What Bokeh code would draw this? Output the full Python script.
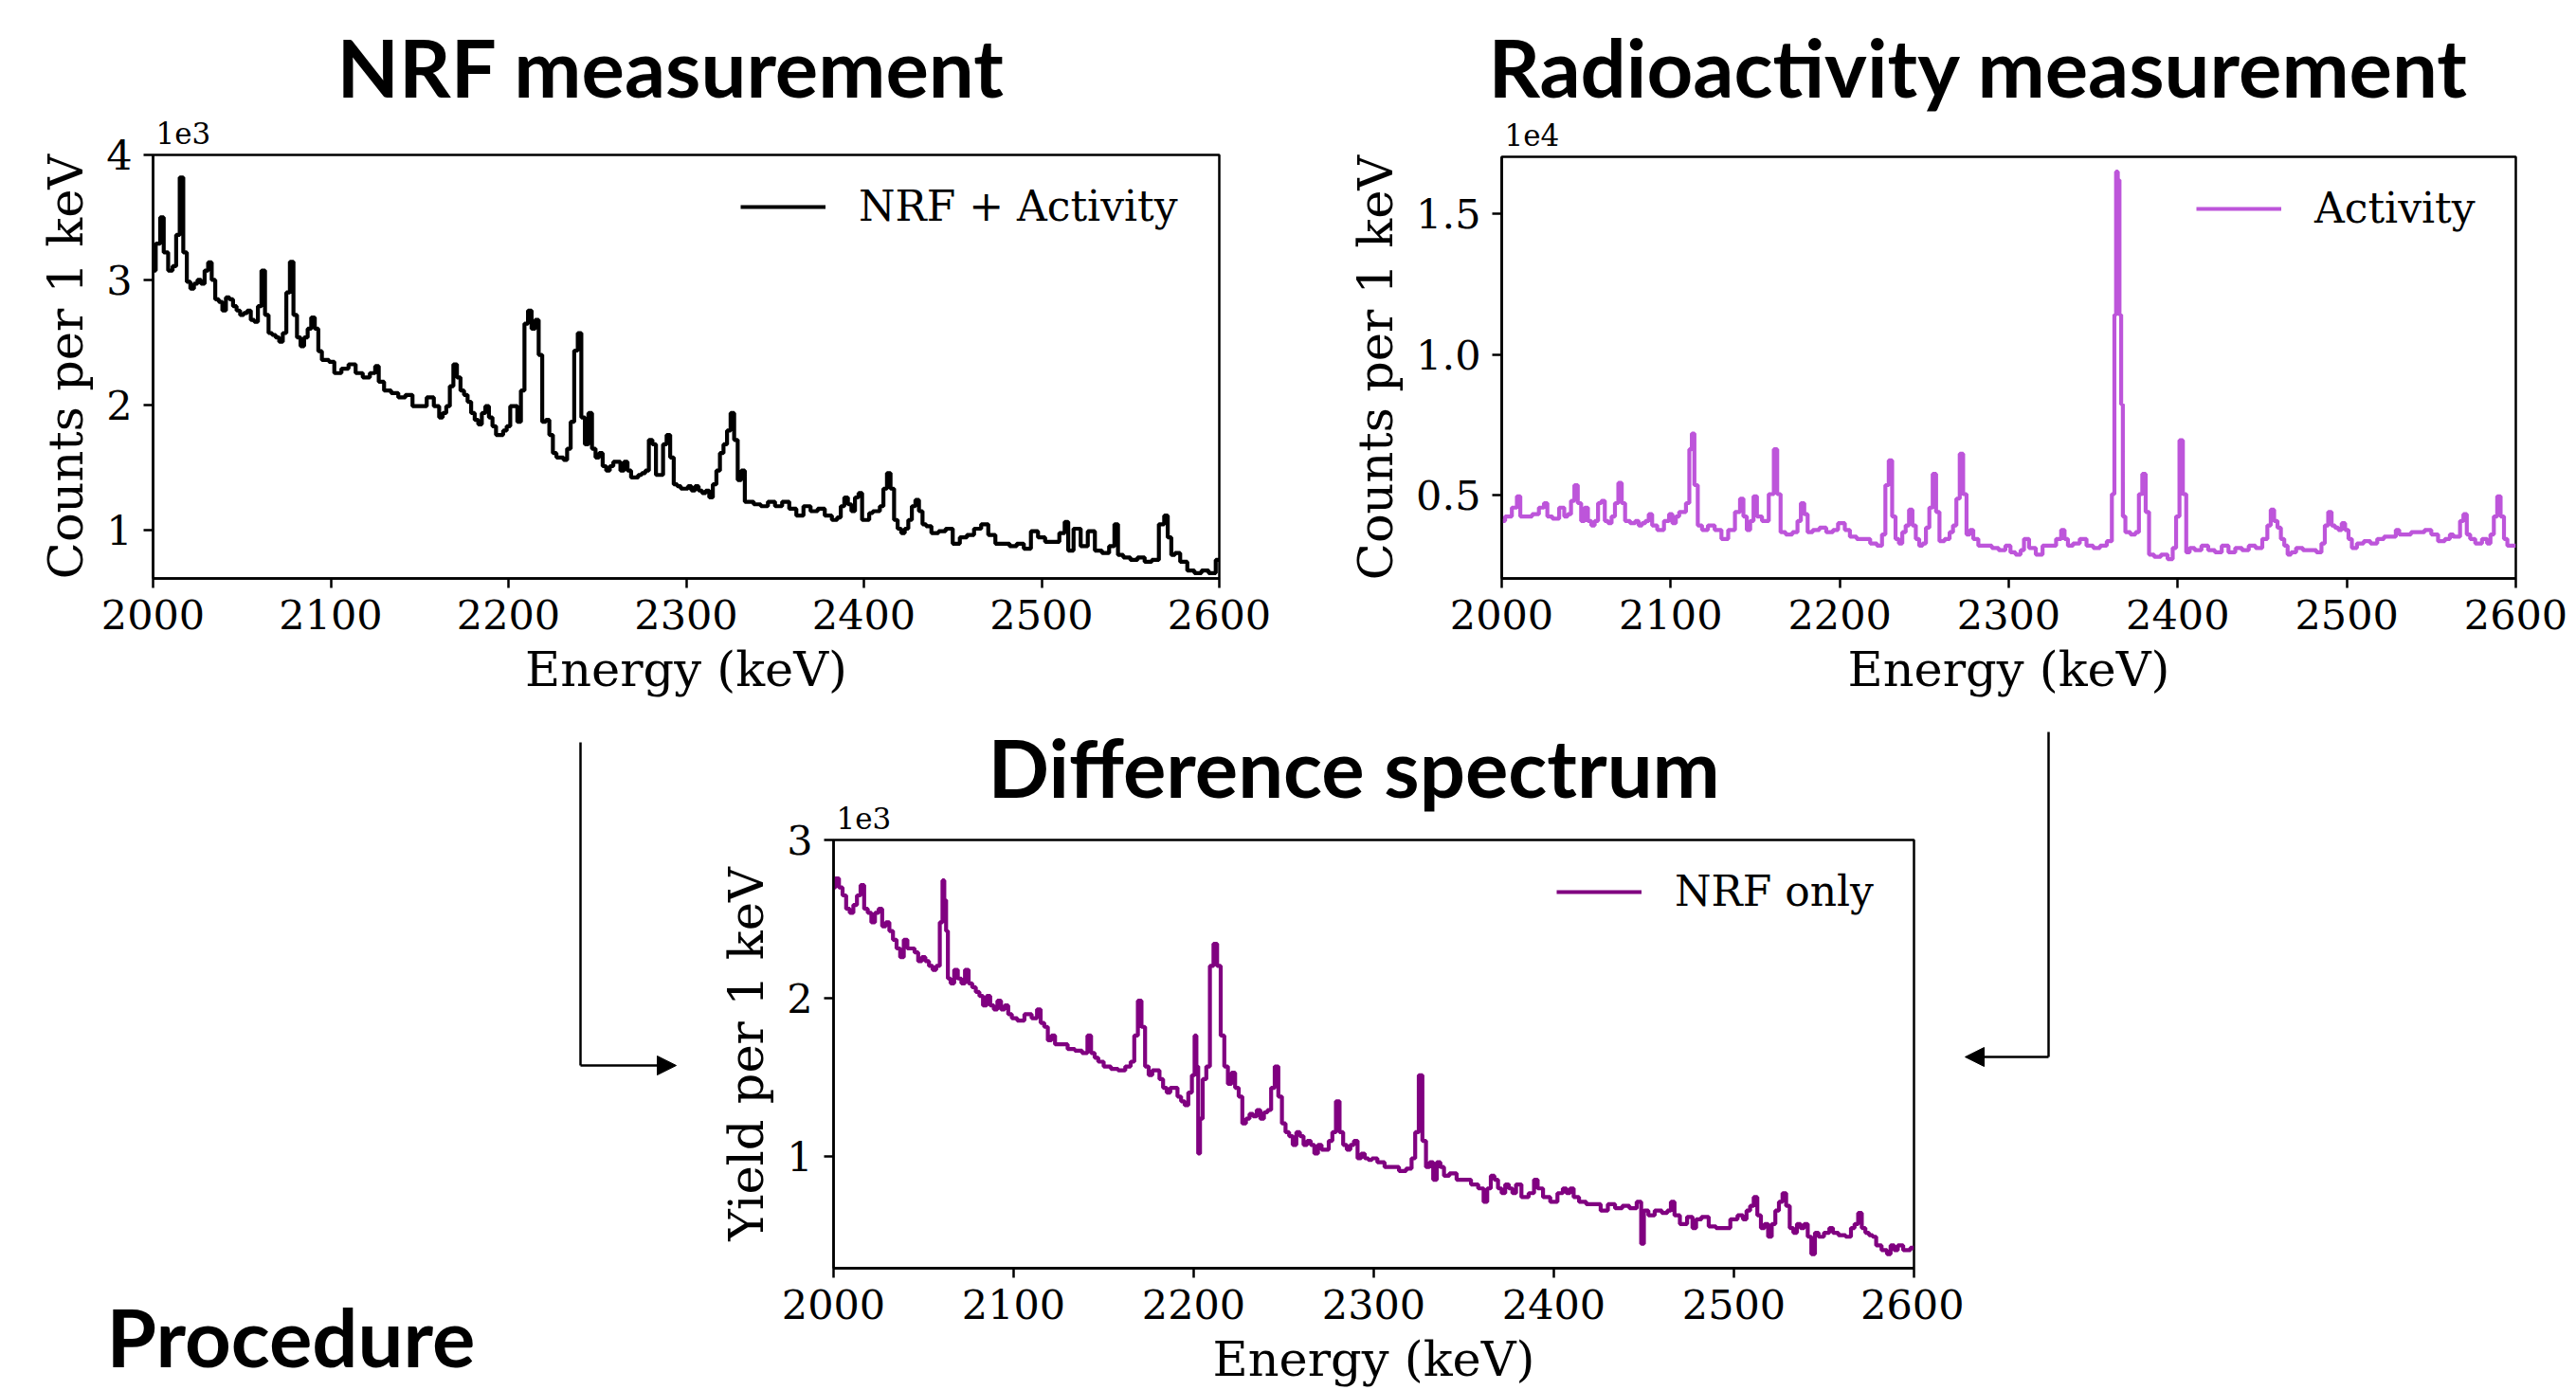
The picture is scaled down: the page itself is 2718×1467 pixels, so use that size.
from bokeh.plotting import figure
from bokeh.layouts import column, row
from bokeh.models import (Range1d, FixedTicker, CustomJSTickFormatter, Label, Arrow,
                          NormalHead, Legend, LegendItem, Title)
from bokeh.embed import file_html
from bokeh.resources import INLINE

# ---------------- data ----------------
energy_ticks = [2000, 2100, 2200, 2300, 2400, 2500, 2600]

nrf_energy = [2000, 2003, 2005, 2007, 2010, 2012, 2014, 2016, 2018, 2020, 2022, 2024, 2026, 2028, 2030,
              2032, 2034, 2036, 2038, 2040, 2042, 2044, 2046, 2048, 2050, 2052, 2054, 2056, 2058, 2060,
              2062, 2064, 2066, 2068, 2070, 2072, 2074, 2076, 2078, 2080, 2082, 2084, 2086, 2088, 2090,
              2092, 2094, 2096, 2098, 2100, 2104, 2108, 2112, 2116, 2120, 2124, 2126, 2128, 2132, 2136,
              2140, 2144, 2148, 2152, 2156, 2160, 2162, 2164, 2166, 2168, 2170, 2172, 2174, 2176, 2178,
              2180, 2182, 2184, 2186, 2188, 2190, 2192, 2194, 2196, 2198, 2200, 2202, 2204, 2206, 2208,
              2210, 2212, 2214, 2216, 2218, 2220, 2222, 2224, 2226, 2228, 2230, 2232, 2234, 2236, 2238,
              2240, 2242, 2244, 2246, 2248, 2250, 2252, 2254, 2256, 2258, 2260, 2262, 2264, 2266, 2268,
              2270, 2272, 2274, 2276, 2278, 2280, 2282, 2284, 2286, 2288, 2290, 2292, 2294, 2296, 2298,
              2300, 2302, 2304, 2306, 2308, 2310, 2312, 2314, 2316, 2318, 2320, 2322, 2324, 2326, 2328,
              2330, 2332, 2334, 2336, 2340, 2344, 2348, 2352, 2356, 2360, 2364, 2368, 2372, 2376, 2380,
              2384, 2386, 2388, 2390, 2392, 2394, 2396, 2398, 2400, 2402, 2404, 2406, 2408, 2410, 2412,
              2414, 2416, 2418, 2420, 2422, 2424, 2426, 2428, 2430, 2432, 2434, 2436, 2440, 2444, 2448,
              2452, 2456, 2460, 2464, 2468, 2472, 2476, 2480, 2484, 2488, 2492, 2496, 2500, 2504, 2508,
              2512, 2514, 2516, 2520, 2524, 2528, 2532, 2536, 2540, 2542, 2544, 2548, 2552, 2556, 2560,
              2564, 2568, 2570, 2572, 2574, 2576, 2580, 2584, 2588, 2592, 2596, 2600]
nrf_counts = [3075, 3290, 3500, 3220, 3075, 3110, 3360, 3820, 3220, 2985, 2930, 2970, 3000, 2970, 3075,
              3140, 3000, 2845, 2825, 2755, 2860, 2845, 2790, 2755, 2720, 2735, 2755, 2680, 2665, 2790,
              3075, 2720, 2575, 2560, 2540, 2505, 2575, 2900, 3145, 2720, 2540, 2470, 2540, 2610, 2700,
              2610, 2430, 2360, 2360, 2345, 2255, 2290, 2325, 2255, 2220, 2255, 2310, 2185, 2115, 2095,
              2060, 2080, 1990, 1990, 2060, 1990, 1900, 1935, 1990, 2150, 2325, 2220, 2115, 2080, 2025,
              1935, 1880, 1845, 1935, 1990, 1900, 1830, 1760, 1760, 1795, 1830, 1990, 1990, 1865, 2115,
              2650, 2755, 2610, 2680, 2400, 1865, 1880, 1760, 1615, 1580, 1580, 1560, 1650, 1865, 2435,
              2575, 1900, 1685, 1935, 1650, 1580, 1615, 1510, 1475, 1510, 1545, 1545, 1475, 1545, 1475,
              1420, 1420, 1440, 1455, 1475, 1720, 1685, 1440, 1440, 1685, 1760, 1580, 1365, 1350, 1330,
              1330, 1350, 1315, 1350, 1315, 1295, 1315, 1260, 1365, 1475, 1615, 1685, 1795, 1935, 1720,
              1400, 1475, 1225, 1225, 1205, 1190, 1225, 1190, 1225, 1170, 1115, 1190, 1150, 1170, 1115,
              1080, 1100, 1190, 1260, 1205, 1150, 1260, 1295, 1080, 1080, 1135, 1150, 1150, 1190, 1330,
              1455, 1330, 1080, 1010, 975, 1010, 1080, 1190, 1240, 1150, 1045, 1030, 975, 990, 1010,
              890, 940, 960, 1010, 1045, 960, 890, 890, 870, 890, 850, 990, 940, 905, 905,
              975, 1065, 835, 1010, 870, 990, 835, 815, 870, 1045, 800, 780, 760, 780, 745,
              760, 1045, 1115, 940, 800, 815, 745, 675, 655, 675, 655, 760]

act_energy = [2000, 2004, 2008, 2010, 2012, 2016, 2020, 2024, 2026, 2028, 2032, 2036, 2038, 2040, 2042,
              2044, 2046, 2048, 2050, 2052, 2054, 2056, 2058, 2060, 2062, 2064, 2066, 2068, 2070, 2072,
              2074, 2078, 2080, 2082, 2084, 2086, 2088, 2090, 2094, 2098, 2100, 2102, 2104, 2106, 2108,
              2110, 2112, 2113, 2115, 2117, 2120, 2124, 2128, 2132, 2136, 2140, 2142, 2144, 2146, 2148,
              2150, 2152, 2156, 2160, 2162, 2164, 2166, 2170, 2174, 2176, 2178, 2180, 2182, 2186, 2190,
              2194, 2198, 2200, 2202, 2204, 2208, 2212, 2216, 2220, 2224, 2226, 2228, 2230, 2232, 2234,
              2236, 2238, 2240, 2242, 2244, 2246, 2248, 2250, 2252, 2254, 2256, 2258, 2260, 2264, 2266,
              2268, 2270, 2272, 2274, 2276, 2278, 2280, 2284, 2288, 2292, 2296, 2300, 2302, 2306, 2308,
              2310, 2314, 2318, 2322, 2326, 2330, 2332, 2334, 2336, 2340, 2344, 2348, 2352, 2356, 2360,
              2362, 2363, 2364, 2365, 2366, 2367, 2368, 2370, 2374, 2376, 2378, 2380, 2382, 2384, 2388,
              2392, 2396, 2398, 2400, 2402, 2404, 2406, 2408, 2412, 2416, 2420, 2424, 2428, 2432, 2436,
              2440, 2444, 2448, 2452, 2454, 2456, 2458, 2460, 2462, 2464, 2466, 2468, 2472, 2476, 2480,
              2484, 2486, 2488, 2490, 2492, 2494, 2496, 2498, 2500, 2502, 2504, 2508, 2512, 2516, 2520,
              2524, 2528, 2530, 2532, 2536, 2540, 2544, 2548, 2552, 2556, 2560, 2562, 2564, 2566, 2568,
              2570, 2572, 2574, 2578, 2582, 2584, 2586, 2588, 2590, 2592, 2594, 2596, 2600]
act_counts = [4075, 4235, 4550, 4950, 4235, 4235, 4315, 4550, 4710, 4235, 4155, 4550, 4235, 4315, 4790,
              5350, 4710, 4075, 4550, 4075, 3915, 4075, 4710, 4790, 4075, 3995, 4235, 4710, 5430, 4710,
              4075, 3995, 4075, 3915, 3995, 4075, 4315, 3915, 3755, 4075, 4315, 3995, 4235, 4395, 4395,
              4710, 6625, 7185, 5350, 3915, 3755, 3915, 3755, 3435, 3755, 4395, 4870, 4235, 3755, 4075,
              4950, 4235, 4075, 5030, 6625, 5030, 3675, 3595, 3675, 4075, 4710, 4315, 3675, 3755, 3835,
              3675, 3755, 3995, 3995, 3755, 3515, 3435, 3435, 3275, 3195, 3595, 5350, 6230, 4235, 3435,
              3275, 3675, 3915, 4475, 3915, 3435, 3195, 3275, 3835, 4550, 5750, 4395, 3355, 3435, 3675,
              3915, 4870, 6465, 5030, 3595, 3755, 3435, 3195, 3195, 3115, 3035, 3195, 2960, 2880, 3035,
              3435, 3115, 2880, 3195, 3195, 3435, 3755, 3435, 3195, 3275, 3435, 3195, 3115, 3195, 3355,
              5030, 11410, 16500, 16200, 11410, 8220, 4235, 3675, 3595, 3675, 5030, 5750, 4395, 2880, 2800,
              2880, 2720, 3115, 4235, 6945, 5030, 2960, 3115, 3035, 3195, 3035, 2960, 3195, 2960, 3115,
              3035, 3195, 3115, 3435, 3915, 4475, 4075, 3835, 3435, 3195, 2880, 2960, 3115, 3035, 3035,
              2960, 3275, 3915, 4395, 3915, 3835, 3755, 3995, 3755, 3435, 3115, 3275, 3355, 3275, 3435,
              3515, 3515, 3755, 3595, 3595, 3675, 3675, 3755, 3595, 3355, 3435, 3595, 3515, 3515, 4075,
              4315, 3595, 3435, 3275, 3435, 3275, 3595, 4235, 4950, 4235, 3435, 3195, 3195]

diff_energy = [2000, 2002, 2004, 2006, 2008, 2010, 2012, 2014, 2016, 2018, 2020, 2022, 2024, 2026, 2028,
               2030, 2032, 2034, 2036, 2038, 2040, 2042, 2044, 2046, 2048, 2050, 2052, 2054, 2056, 2058,
               2060, 2061, 2062, 2063, 2064, 2066, 2068, 2070, 2072, 2074, 2076, 2078, 2080, 2082, 2084,
               2086, 2088, 2090, 2092, 2094, 2096, 2098, 2100, 2104, 2108, 2112, 2114, 2116, 2118, 2120,
               2122, 2124, 2128, 2132, 2136, 2140, 2142, 2144, 2146, 2148, 2152, 2156, 2160, 2164, 2166,
               2168, 2170, 2172, 2174, 2176, 2178, 2180, 2182, 2184, 2186, 2188, 2190, 2192, 2194, 2196,
               2198, 2200, 2201, 2202, 2203, 2204, 2206, 2208, 2210, 2212, 2214, 2216, 2218, 2220, 2222,
               2224, 2226, 2228, 2230, 2232, 2234, 2236, 2238, 2240, 2242, 2244, 2246, 2248, 2250, 2252,
               2254, 2256, 2258, 2260, 2262, 2264, 2266, 2268, 2270, 2272, 2274, 2276, 2278, 2280, 2282,
               2284, 2286, 2288, 2290, 2292, 2294, 2296, 2298, 2300, 2304, 2308, 2312, 2316, 2320, 2322,
               2324, 2326, 2328, 2330, 2332, 2334, 2336, 2338, 2340, 2344, 2348, 2352, 2356, 2360, 2362,
               2364, 2366, 2368, 2370, 2372, 2374, 2376, 2378, 2380, 2384, 2388, 2390, 2392, 2396, 2400,
               2404, 2406, 2408, 2410, 2412, 2416, 2420, 2424, 2428, 2432, 2436, 2440, 2444, 2448, 2449,
               2451, 2454, 2458, 2462, 2464, 2466, 2468, 2472, 2476, 2478, 2480, 2484, 2488, 2492, 2496,
               2500, 2504, 2506, 2508, 2510, 2512, 2514, 2516, 2518, 2520, 2522, 2524, 2526, 2528, 2530,
               2532, 2534, 2536, 2538, 2540, 2542, 2544, 2546, 2548, 2552, 2554, 2556, 2560, 2564, 2566,
               2568, 2570, 2572, 2574, 2576, 2578, 2580, 2584, 2586, 2588, 2590, 2592, 2596, 2600]
diff_yield = [2700, 2757, 2700, 2650, 2565, 2540, 2590, 2650, 2715, 2565, 2540, 2480, 2540, 2565, 2455,
              2480, 2425, 2370, 2315, 2260, 2370, 2315, 2315, 2290, 2235, 2260, 2235, 2205, 2180, 2205,
              2480, 2745, 2620, 2425, 2125, 2095, 2180, 2125, 2095, 2180, 2095, 2070, 2040, 2015, 1955,
              2015, 1955, 1930, 1985, 1930, 1955, 1900, 1875, 1860, 1900, 1875, 1930, 1845, 1820, 1735,
              1765, 1710, 1710, 1680, 1670, 1655, 1765, 1655, 1625, 1600, 1570, 1555, 1545, 1570, 1600,
              1765, 1985, 1820, 1570, 1515, 1545, 1545, 1490, 1435, 1405, 1435, 1435, 1380, 1350, 1325,
              1405, 1515, 1765, 1570, 1020, 1240, 1490, 1570, 2205, 2345, 2205, 1765, 1570, 1460, 1530,
              1435, 1380, 1210, 1240, 1270, 1255, 1295, 1240, 1280, 1295, 1435, 1570, 1380, 1210, 1155,
              1130, 1075, 1155, 1130, 1075, 1100, 1075, 1020, 1075, 1045, 1045, 1100, 1155, 1350, 1155,
              1075, 1045, 1075, 1100, 990, 1020, 990, 980, 990, 965, 935, 935, 910, 925, 990,
              1155, 1515, 1100, 935, 965, 855, 965, 935, 880, 895, 855, 855, 825, 800, 715,
              800, 880, 855, 800, 770, 825, 800, 770, 825, 745, 770, 855, 800, 745, 715,
              770, 800, 770, 800, 745, 715, 700, 700, 660, 700, 675, 690, 675, 715, 450,
              660, 630, 660, 645, 660, 715, 630, 575, 620, 550, 605, 620, 560, 550, 550,
              605, 630, 605, 660, 690, 745, 630, 550, 575, 495, 575, 660, 715, 770, 690,
              550, 520, 575, 550, 575, 495, 385, 520, 495, 520, 550, 520, 505, 495, 550,
              575, 645, 550, 520, 505, 495, 440, 410, 385, 440, 410, 440, 410, 425]

# ---------------- styling helpers ----------------
SERIF = "DejaVu Serif"
HEAD_FONT = "Lato"
X_RANGE = (2000, 2600)


def make_fig(width, height, borders, y_range, y_ticks, tick_code, y_label):
    p = figure(width=width, height=height, output_backend="svg", toolbar_location=None, tools="",
               x_range=Range1d(*X_RANGE), y_range=Range1d(*y_range))
    p.frame_align = False
    p.min_border_left, p.min_border_right, p.min_border_top, p.min_border_bottom = borders
    p.grid.visible = False
    p.outline_line_color = "black"
    p.outline_line_width = 2.5
    p.outline_line_alpha = 1.0
    p.background_fill_color = "white"
    p.border_fill_color = "white"
    p.xaxis.ticker = FixedTicker(ticks=energy_ticks)
    p.yaxis.ticker = FixedTicker(ticks=y_ticks)
    p.yaxis.formatter = CustomJSTickFormatter(code=tick_code)
    p.xaxis.axis_label = "Energy (keV)"
    p.yaxis.axis_label = y_label
    for ax in (p.xaxis[0], p.yaxis[0]):
        ax.axis_line_width = 2.5
        ax.axis_line_color = "black"
        ax.major_tick_line_width = 2.5
        ax.major_tick_line_color = "black"
        ax.major_tick_out = 10
        ax.major_tick_in = 0
        ax.minor_tick_line_color = None
        ax.major_label_text_font = SERIF
        ax.major_label_text_font_size = "43px"
        ax.major_label_text_color = "black"
        ax.major_label_standoff = 12
        ax.axis_label_text_font = SERIF
        ax.axis_label_text_font_size = "51px"
        ax.axis_label_text_font_style = "normal"
        ax.axis_label_text_color = "black"
        ax.axis_label_standoff = 10
    return p


def add_series(p, xs, ys, color, label, label_w):
    r = p.step(xs, ys, mode="center", line_color=color, line_width=4.2)
    legend = Legend(items=[LegendItem(label=label, renderers=[r])], location="top_right",
                    border_line_alpha=0, background_fill_alpha=0,
                    label_text_font=SERIF, label_text_font_size="44px", label_text_color="black",
                    glyph_width=90, glyph_height=40, label_height=40, label_standoff=35,
                    label_width=label_w, padding=22, margin=7)
    p.add_layout(legend)
    return r


def add_titles(p, offset_text, title, title_left, title_standoff):
    # nearest the frame: the matplotlib-style offset text, then the panel title
    p.add_layout(Title(text=offset_text, align="left", offset=3, standoff=24,
                       text_font=SERIF, text_font_size="31px", text_font_style="normal",
                       text_color="black"), "above")
    p.add_layout(Title(text=title, align="left", offset=title_left, standoff=title_standoff,
                       text_font=HEAD_FONT, text_font_size="85px", text_font_style="bold",
                       text_color="black"), "above")


# ---------------- NRF measurement ----------------
p1 = make_fig(1360, 750, (161, 74, 163, 140), (612, 4000), [1000, 2000, 3000, 4000],
              "return (tick/1000).toFixed(0);", "Counts per 1 keV")
add_series(p1, nrf_energy, nrf_counts, "black", "NRF + Activity", 351)
add_titles(p1, "1e3", "NRF measurement", 194, -12)

# ---------------- Radioactivity measurement ----------------
p2 = make_fig(1358, 750, (224, 64, 165, 140), (2030, 17030), [5000, 10000, 15000],
              "return (tick/10000).toFixed(1);", "Counts per 1 keV")
add_series(p2, act_energy, act_counts, "#BD55DA", "Activity", 183)
add_titles(p2, "1e4", "Radioactivity measurement", -14, -8)

# ---------------- Difference spectrum ----------------
p3 = make_fig(1322, 717, (129, 53, 136, 129), (296, 3000), [1000, 2000, 3000],
              "return (tick/1000).toFixed(0);", "Yield per 1 keV")
add_series(p3, diff_energy, diff_yield, "#800080", "NRF only", 223)
add_titles(p3, "1e3", "Difference spectrum", 163, -44)


# ---------------- side panels: flow arrows and caption (page-pixel coordinates) ----------------
def blank(width, x0, x1):
    b = figure(width=width, height=717, output_backend="svg", toolbar_location=None, tools="",
               x_range=Range1d(x0, x1), y_range=Range1d(1467, 750),
               x_axis_location=None, y_axis_location=None, min_border=0)
    b.frame_align = False
    b.grid.visible = False
    b.outline_line_color = None
    b.background_fill_color = "white"
    b.border_fill_color = "white"
    return b


def connector(b, xv, ytop, ybend, xtip):
    b.add_layout(Arrow(end=None, x_start=xv, y_start=ytop, x_end=xv, y_end=ybend,
                       line_color="black", line_width=2.5))
    b.add_layout(Arrow(end=NormalHead(size=20, fill_color="black", line_color="black", line_width=1),
                       x_start=xv, y_start=ybend, x_end=xtip, y_end=ybend,
                       line_color="black", line_width=2.5))


left = blank(750, 0, 750)
connector(left, 612, 783, 1124, 713)
left.add_layout(Label(x=112, y=1409, text="Procedure", text_align="left", text_baseline="alphabetic",
                      text_font=HEAD_FONT, text_font_style="bold", text_font_size="85px",
                      text_color="black"))

right = blank(646, 2072, 2718)
connector(right, 2161, 772, 1115, 2073)

layout = column(row(p1, p2), row(left, p3, right))
open("out.html", "w").write(file_html(layout, INLINE))
